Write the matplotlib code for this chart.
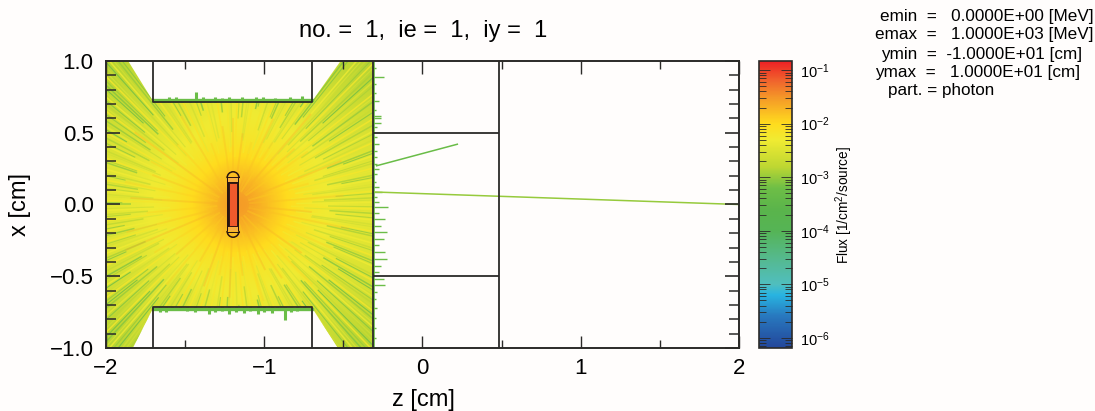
import numpy as np
import matplotlib
matplotlib.use("Agg")
import matplotlib.pyplot as plt
from matplotlib.cm import ScalarMappable
from matplotlib.collections import LineCollection
from matplotlib.colors import LinearSegmentedColormap, LogNorm, Normalize
from matplotlib.patches import Arc, Polygon, Rectangle
from matplotlib.ticker import FixedLocator, LogLocator, NullFormatter

plt.rcParams['font.family'] = ['Liberation Sans', 'DejaVu Sans']
plt.rcParams['mathtext.default'] = 'regular'

# =====================
# data
# =====================
title = "no. =  1,  ie =  1,  iy =  1"
info_lines = [
    "emin  =   0.0000E+00 [MeV]",
    "emax  =   1.0000E+03 [MeV]",
    "ymin  =  -1.0000E+01 [cm]",
    "ymax  =   1.0000E+01 [cm]",
    "part. = photon",
]

# colour scale: log10(flux) -> colour
scale_log = [-6.19, -5.6, -5.2, -5.0, -4.5, -4.0, -3.6, -3.2, -2.8, -2.3, -2.0, -1.5, -1.2, -0.83]
scale_rgb = ["#23469a", "#2878be", "#28b4e1", "#50bebe", "#55b98c", "#55b455", "#5ab44b", "#6ebe46",
             "#bed732", "#f0eb32", "#ffdc1e", "#f49628", "#f0642d", "#ed2024"]

# coarse log10(flux) map, rows x = -1 .. 1, columns z = -2 .. -0.32
flux_map = [
    [-2.85, -2.70, -2.60, -2.50, -2.45, -2.50, -2.60, -2.70, -2.85],
    [-2.70, -2.55, -2.45, -2.35, -2.30, -2.35, -2.40, -2.55, -2.65],
    [-2.55, -2.45, -2.35, -2.25, -2.15, -2.25, -2.30, -2.40, -2.50],
    [-2.45, -2.35, -2.20, -1.95, -1.75, -1.95, -2.15, -2.35, -2.45],
    [-2.40, -2.30, -2.10, -1.75, -1.25, -1.75, -2.10, -2.30, -2.40],
    [-2.45, -2.35, -2.20, -1.95, -1.75, -1.95, -2.15, -2.35, -2.45],
    [-2.55, -2.45, -2.35, -2.25, -2.15, -2.25, -2.30, -2.40, -2.50],
    [-2.70, -2.55, -2.45, -2.35, -2.30, -2.35, -2.40, -2.55, -2.65],
    [-2.85, -2.70, -2.60, -2.50, -2.45, -2.50, -2.60, -2.70, -2.85],
]

# streaks leaving the source: direction in degrees and log10(flux)
ray_angle = [
    1, 3, 6, 8, 11, 13, 16, 18, 21, 23,
    26, 27, 30, 32, 34, 37, 39, 41, 44, 46,
    48, 50, 52, 55, 57, 59, 61, 63, 66, 68,
    70, 73, 75, 78, 80, 83, 85, 88, 91, 93,
    96, 98, 101, 104, 106, 109, 111, 114, 116, 119,
    121, 123, 126, 128, 130, 132, 134, 137, 139, 141,
    144, 146, 148, 150, 153, 155, 158, 160, 163, 165,
    168, 170, 173, 175, 178, 180, 183, 185, 188, 190,
    193, 195, 198, 200, 203, 205, 208, 210, 212, 215,
    217, 219, 222, 224, 226, 228, 230, 232, 235, 237,
    239, 241, 244, 246, 249, 251, 254, 256, 259, 262,
    264, 267, 270, 272, 275, 277, 280, 283, 285, 288,
    290, 293, 295, 298, 300, 302, 305, 307, 309, 311,
    313, 316, 318, 320, 322, 324, 327, 329, 331, 334,
    336, 338, 341, 343, 346, 348, 351, 353, 356, 358,
]
ray_level = [
    -2.3, -2.8, -2.2, -2.6, -2.3, -2.9, -2.2, -2.7, -2.3, -3.0,
    -2.2, -2.6, -2.3, -2.9, -2.2, -2.7, -3.0, -2.2, -2.5, -2.9,
    -2.2, -2.7, -2.3, -3.1, -2.2, -2.6, -2.9, -2.2, -2.5, -3.0,
    -2.1, -2.7, -2.2, -3.1, -2.2, -2.5, -2.9, -2.1, -2.6, -2.2,
    -3.0, -2.1, -2.5, -2.2, -3.1, -2.2, -2.6, -2.1, -2.9, -2.2,
    -2.6, -2.2, -3.0, -2.3, -2.7, -2.2, -3.1, -2.3, -2.8, -2.2,
    -3.0, -2.4, -2.2, -2.9, -2.3, -2.7, -2.2, -3.0, -2.3, -2.7,
    -2.2, -2.9, -2.3, -2.6, -2.2, -3.0, -2.3, -2.7, -2.2, -2.8,
    -2.3, -3.0, -2.2, -2.6, -2.3, -2.9, -2.2, -2.7, -3.1, -2.3,
    -2.6, -2.2, -3.0, -2.4, -2.8, -2.2, -3.1, -2.3, -2.6, -2.9,
    -2.2, -2.7, -2.1, -3.0, -2.2, -2.5, -2.1, -2.9, -2.2, -2.6,
    -2.1, -3.0, -2.2, -2.5, -2.1, -2.8, -2.2, -3.1, -2.1, -2.6,
    -2.2, -2.9, -2.2, -2.6, -3.0, -2.2, -2.7, -2.3, -3.1, -2.2,
    -2.7, -2.3, -3.0, -2.2, -2.8, -2.4, -3.1, -2.2, -2.7, -2.3,
    -3.0, -2.2, -2.7, -2.3, -2.9, -2.2, -2.6, -2.3, -2.9, -2.2,
]

# finer streaks, mostly in the outer part
fine_angle = [
    2, 5, 9, 12, 15, 19, 22, 25, 29, 33,
    36, 40, 43, 45, 47, 49, 51, 54, 56, 58,
    60, 62, 65, 69, 72, 77, 82, 87, 92, 97,
    103, 108, 113, 118, 122, 125, 127, 129, 131, 133,
    135, 136, 138, 140, 142, 145, 147, 149, 152, 156,
    159, 162, 166, 169, 172, 176, 179, 182, 186, 189,
    192, 196, 199, 202, 206, 209, 213, 216, 218, 220,
    221, 223, 225, 227, 229, 231, 233, 234, 236, 238,
    240, 243, 247, 252, 257, 263, 268, 273, 278, 284,
    289, 294, 297, 301, 303, 304, 306, 308, 310, 312,
    314, 315, 317, 319, 321, 323, 325, 326, 328, 330,
    332, 335, 337, 340, 344, 347, 350, 354, 357, 359,
]
fine_level = [
    -2.6, -2.9, -2.5, -3.0, -2.4, -2.8, -3.1, -2.5, -2.9, -2.6,
    -3.1, -2.5, -2.9, -3.2, -2.6, -3.0, -2.5, -3.1, -2.7, -3.2,
    -2.5, -3.0, -2.6, -2.9, -2.4, -3.0, -2.5, -2.8, -2.4, -3.1,
    -2.5, -2.9, -2.4, -3.0, -2.6, -3.1, -2.6, -3.2, -2.5, -3.0,
    -3.2, -2.6, -3.1, -2.5, -3.0, -2.7, -3.2, -2.5, -3.0, -2.6,
    -2.9, -2.5, -3.0, -2.6, -2.8, -2.5, -3.0, -2.6, -2.9, -2.5,
    -3.0, -2.6, -2.9, -2.5, -3.1, -2.6, -2.9, -3.2, -2.5, -3.0,
    -3.2, -2.6, -3.1, -2.6, -3.2, -2.5, -3.0, -3.2, -2.6, -3.1,
    -2.5, -3.0, -2.6, -2.9, -2.4, -2.9, -2.5, -3.0, -2.4, -2.9,
    -2.5, -3.0, -2.6, -2.9, -3.2, -2.6, -3.1, -2.5, -3.0, -3.2,
    -2.6, -3.1, -2.5, -3.2, -2.6, -3.0, -2.5, -3.2, -2.6, -3.1,
    -2.5, -3.0, -2.6, -2.9, -2.5, -3.0, -2.6, -2.9, -2.5, -2.8,
]

# short orange streaks close to the source
streak_angle = [5, 17, 24, 38, 45, 52, 60, 67, 75, 83, 90, 97, 108, 118, 130, 141, 150, 158, 167, 176,
                186, 196, 205, 214, 224, 233, 242, 252, 260, 268, 277, 286, 294, 301, 312, 322, 334, 347, 354]
streak_level = [-1.8, -1.9, -1.7, -1.9, -1.8, -1.7, -1.9, -1.8, -1.9, -1.7, -1.8, -1.8, -1.9, -1.8, -1.9, -1.7, -1.9, -1.8, -1.9, -1.7,
                -1.9, -1.8, -1.7, -1.9, -1.8, -1.9, -1.8, -1.7, -1.9, -1.7, -1.8, -1.9, -1.7, -1.8, -1.9, -1.7, -1.9, -1.8, -1.7]
streak_len = [0.7, 0.5, 0.75, 0.6, 0.55, 0.8, 0.5, 0.65, 0.45, 0.5, 0.6, 0.55, 0.45, 0.7, 0.55, 0.8, 0.6, 0.55, 0.7, 0.65,
              0.55, 0.7, 0.75, 0.6, 0.5, 0.7, 0.45, 0.6, 0.5, 0.65, 0.5, 0.7, 0.5, 0.6, 0.75, 0.55, 0.7, 0.75, 0.5]

# walls of the geometry
source_z = -1.197
block_z = [-1.7, -0.7]
block_x = 0.716
wall_z = -0.315
slab_z = 0.483
slab_x = 0.5

# edge of the filled region
region_z = [-2, -1.83, -1.7, -0.7, -0.535, -0.315, -0.315, -0.517, -0.7, -1.7, -1.86, -2]
region_x = [-1, -1, -0.716, -0.716, -1, -1, 1, 1, 0.716, 0.716, 1, 1]

# fuzz behind the walls: position and how far it reaches
top_fuzz_z = [-1.68, -1.64, -1.6, -1.56, -1.52, -1.47, -1.43, -1.39, -1.35, -1.31, -1.27, -1.22, -1.18, -1.14, -1.1, -1.05, -1.01, -0.97, -0.93, -0.88, -0.84, -0.8, -0.76, -0.73]
top_fuzz_h = [0.015, 0.02, 0.035, 0.03, 0.02, 0.02, 0.07, 0.03, 0.02, 0.03, 0.025, 0.03, 0.02, 0.035, 0.02, 0.03, 0.035, 0.02, 0.025, 0.02, 0.03, 0.02, 0.04, 0.015]
low_fuzz_z = [-1.66, -1.62, -1.58, -1.53, -1.49, -1.44, -1.4, -1.35, -1.31, -1.27, -1.22, -1.18, -1.13, -1.09, -1.04, -1.0, -0.95, -0.92, -0.87, -0.83, -0.79, -0.75]
low_fuzz_h = [0.03, 0.035, 0.02, 0.02, 0.025, 0.03, 0.02, 0.045, 0.03, 0.025, 0.05, 0.03, 0.04, 0.025, 0.05, 0.03, 0.04, 0.02, 0.09, 0.03, 0.025, 0.02]
side_fuzz_x = [0.95, 0.89, 0.84, 0.78, 0.72, 0.66, 0.62, 0.6, 0.57, 0.54, 0.47, 0.42, 0.37, 0.33, 0.28, 0.25, 0.21, 0.16, 0.12, 0.09, 0.05, 0.02, -0.02,
               -0.06, -0.1, -0.15, -0.19, -0.24, -0.28, -0.33, -0.38, -0.43, -0.47, -0.52, -0.56, -0.61, -0.66, -0.72, -0.79, -0.86, -0.93]
side_fuzz_l = [0.02, 0.07, 0.02, 0.02, 0.04, 0.02, 0.05, 0.05, 0.05, 0.03, 0.03, 0.04, 0.03, 0.03, 0.03, 0.04, 0.03, 0.02, 0.04, 0.06, 0.03, 0.04, 0.1,
               0.04, 0.08, 0.05, 0.09, 0.07, 0.04, 0.08, 0.09, 0.05, 0.04, 0.07, 0.08, 0.03, 0.02, 0.03, 0.02, 0.02, 0.02]
fuzz_level = -3.25

# the two lone tracks in the open region
track1_z = [-0.3, 2.0]
track1_x = [0.087, 0.0]
track2_z = [-0.29, 0.22]
track2_x = [0.27, 0.42]
track_level = -3.0

log_min, log_max = scale_log[0], scale_log[-1]

# =====================
# figure
# =====================
bg = "#fffdfc"
ink = "#2b2a28"
fig = plt.figure(figsize=(10.95, 4.11), dpi=100, facecolor=bg)
W, H = 1095.0, 411.0
ax = fig.add_axes([106 / W, 1 - 348 / H, 633 / W, 287 / H], facecolor=bg)
ax.set_xlim(-2, 2)
ax.set_ylim(-1, 1)

pos = [(v - log_min) / (log_max - log_min) for v in scale_log]
cmap = LinearSegmentedColormap.from_list("flux", list(zip(pos, scale_rgb)), N=512)
norm = Normalize(log_min, log_max)

region = Polygon(np.column_stack([region_z, region_x]), closed=True, transform=ax.transData,
                 facecolor='none', edgecolor='none')
ax.add_patch(region)

im = ax.imshow(flux_map, extent=[-2, wall_z, -1, 1], origin='lower', aspect='auto',
               cmap=cmap, norm=norm, interpolation='bicubic', zorder=1)
im.set_clip_path(region)


def radial_lines(angles, levels, lw, alpha, zorder, r_from, r_to):
    a = np.radians(angles)
    start = np.column_stack([source_z + r_from * np.cos(a), r_from * np.sin(a)])
    stop = np.column_stack([source_z + r_to * np.cos(a), r_to * np.sin(a)])
    lines = LineCollection(np.stack([start, stop], axis=1), cmap=cmap, norm=norm,
                           linewidths=lw, alpha=alpha, zorder=zorder)
    lines.set_array(np.array(levels))
    ax.add_collection(lines)
    lines.set_clip_path(region)


# greener streaks only show further out
levels = np.array(ray_level)
radial_lines(ray_angle, levels, 1.1, 0.8, 2, 0.33 + (-2.1 - levels) * 0.35, 1.5)
levels = np.array(fine_level)
radial_lines(fine_angle, levels, 0.8, 0.8, 2, 0.4 + (-2.4 - levels) * 0.5, 1.5)
radial_lines(streak_angle, streak_level, 1.4, 0.35, 3, 0.1, np.array(streak_len))

# fuzz and lone tracks
fuzz_color = cmap(norm(fuzz_level))
ax.vlines(top_fuzz_z, block_x, block_x + np.array(top_fuzz_h), color=fuzz_color, lw=2.2, zorder=2)
ax.vlines(low_fuzz_z, -block_x - np.array(low_fuzz_h), -block_x, color=fuzz_color, lw=2.2, zorder=2)
ax.hlines(side_fuzz_x, wall_z, wall_z + np.array(side_fuzz_l), color=fuzz_color, lw=1.0, zorder=2)
ax.plot(block_z, [block_x + 0.012] * 2, color=fuzz_color, lw=2.4, zorder=2)
ax.plot(block_z, [-block_x - 0.012] * 2, color=fuzz_color, lw=2.4, zorder=2)
ax.plot([wall_z + 0.008] * 2, [-1, 1], color=fuzz_color, lw=1.2, zorder=2)
ax.plot(track1_z, track1_x, color=cmap(norm(track_level)), lw=1.1, zorder=2)
ax.plot(track2_z, track2_x, color=cmap(norm(track_level - 0.3)), lw=1.1, zorder=2)

# walls
wall = dict(color=ink, lw=1.3, zorder=5, solid_capstyle='butt')
for sign in (1, -1):
    ax.plot([block_z[0], block_z[0], block_z[1], block_z[1]],
            [sign, sign * block_x, sign * block_x, sign], **wall)
    ax.plot([wall_z, slab_z], [sign * slab_x] * 2, **wall)
ax.plot([wall_z, wall_z], [-1, 1], **wall)
ax.plot([slab_z, slab_z], [-1, 1], **wall)

# source capsule
dark = "#2a1510"
ax.add_patch(Rectangle((source_z - 0.038, -0.184), 0.076, 0.368, fc=dark, ec='none', zorder=6))
ax.add_patch(Rectangle((source_z - 0.024, -0.151), 0.048, 0.302, fc=cmap(norm(-1.15)), ec=dark, lw=0.6, zorder=7))
for sign in (1, -1):
    ax.add_patch(Rectangle((source_z - 0.032, min(sign * 0.156, sign * 0.186)), 0.064, 0.03,
                           fc="#f8b040", ec='none', zorder=7))
    ax.plot([source_z - 0.04, source_z + 0.04], [sign * 0.19] * 2, color=dark, lw=0.7, zorder=8)
    ax.add_patch(Arc((source_z, sign * 0.184), 0.076, 0.088, theta1=0 if sign > 0 else 180,
                     theta2=180 if sign > 0 else 360, color=dark, lw=1.1, zorder=8))

# axes and ticks
ax.xaxis.set_major_locator(FixedLocator([-2, -1, 0, 1, 2]))
ax.xaxis.set_minor_locator(FixedLocator([-1.5, -0.5, 0.5, 1.5]))
ax.yaxis.set_major_locator(FixedLocator([-1, -0.5, 0, 0.5, 1]))
ax.yaxis.set_minor_locator(FixedLocator(np.round(np.arange(-0.9, 1.0, 0.1), 1)))
ax.set_yticklabels(["\u22121.0", "\u22120.5", "0.0", "0.5", "1.0"])
ax.tick_params(axis='x', which='major', direction='in', top=True, length=9, width=1.0, labelsize=16, pad=7, color=ink, zorder=6)
ax.tick_params(axis='x', which='minor', direction='in', top=True, length=6, width=1.0, color=ink)
ax.tick_params(axis='y', which='major', direction='in', right=True, length=10, width=1.2, labelsize=16, pad=9, color=ink)
ax.tick_params(axis='y', which='minor', direction='in', right=True, length=7, width=1.1, color=ink)
for s in ax.spines.values():
    s.set_linewidth(1.4)
    s.set_color(ink)
    s.set_zorder(9)
ax.set_axisbelow(False)

fig.text(423 / W, 1 - 31 / H, title, ha='center', va='center', fontsize=17)
fig.text(423 / W, 1 - 400 / H, "z [cm]", ha='center', va='center', fontsize=17)
fig.text(20 / W, 1 - 205 / H, "x [cm]", ha='center', va='center', rotation=90, fontsize=17)

# colour bar
cax = fig.add_axes([759 / W, 1 - 348 / H, 32.5 / W, 287 / H])
cb = fig.colorbar(ScalarMappable(LogNorm(10 ** log_min, 10 ** log_max), cmap), cax=cax)
cax.yaxis.set_major_locator(LogLocator(base=10, numticks=10))
cax.yaxis.set_minor_locator(LogLocator(base=10, subs=np.arange(2, 10) * 0.1, numticks=10))
cax.yaxis.set_minor_formatter(NullFormatter())
cax.tick_params(which='major', direction='in', left=True, right=True, length=8, width=0.6, labelsize=10.5, pad=6, color=ink)
cax.tick_params(which='minor', direction='in', left=True, right=True, length=5, width=0.6, color=ink)
cb.outline.set_linewidth(1.2)
cb.outline.set_edgecolor(ink)
fig.text(844 / W, 1 - 205 / H, "Flux [1/cm$^2$/source]", ha='center', va='center', rotation=90, fontsize=9.8)

# info block
info_x = [880, 875, 881, 875, 888]
info_y = [17, 35, 54, 72, 90]
for s, px, py in zip(info_lines, info_x, info_y):
    fig.text(px / W, 1 - py / H, s, ha='left', va='center', fontsize=12.3)

fig.savefig("out.png", dpi=100, facecolor=bg)
